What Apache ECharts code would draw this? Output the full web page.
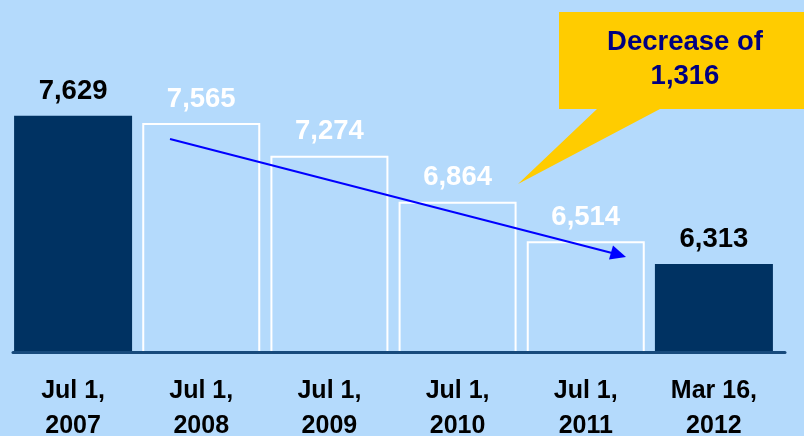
<!DOCTYPE html>
<html>
<head>
<meta charset="utf-8">
<script src="https://cdn.jsdelivr.net/npm/echarts@6/dist/echarts.min.js"></script>
<style>
html,body{margin:0;padding:0;background:#B4DAFC;}
#chart{width:804px;height:436px;}
</style>
</head>
<body>
<div id="chart"></div>
<script>
const categories = ['Jul 1,\n2007', 'Jul 1,\n2008', 'Jul 1,\n2009', 'Jul 1,\n2010', 'Jul 1,\n2011', 'Mar 16,\n2012'];
const values = [7629, 7565, 7274, 6864, 6514, 6313];
const calloutLines = ['Decrease of', '1,316'];

const FONT = '"Liberation Sans", Arial, sans-serif';
const DARK = '#003262';

const data = values.map((v, i) => {
  const filled = (i === 0 || i === values.length - 1);
  return {
    value: v,
    itemStyle: filled
      ? { color: DARK, borderWidth: 0 }
      : { color: 'rgba(0,0,0,0)', borderColor: '#ffffff', borderWidth: 2 },
    label: { color: filled ? '#000000' : '#ffffff' }
  };
});

const chart = echarts.init(document.getElementById('chart'), null, { renderer: 'canvas' });
chart.setOption({
  backgroundColor: '#B4DAFC',
  animation: false,
  grid: { left: 9, right: 26, top: 20, bottom: 84, outerBoundsMode: 'none', containLabel: false },
  xAxis: {
    type: 'category',
    data: categories,
    axisLine: { show: false },
    axisTick: { show: false },
    axisLabel: {
      interval: 0,
      margin: 22,
      color: '#000000',
      fontFamily: FONT,
      fontWeight: 'bold',
      fontSize: 25,
      lineHeight: 35
    }
  },
  yAxis: {
    type: 'value',
    min: 5530,
    max: 8480,
    show: false,
    splitLine: { show: false }
  },
  series: [{
    type: 'bar',
    data: data,
    barWidth: 118,
    label: {
      show: true,
      position: 'top',
      distance: 10,
      fontFamily: FONT,
      fontWeight: 'bold',
      fontSize: 27.5,
      formatter: p => p.value.toLocaleString('en-US')
    }
  }],
  graphic: [
    {
      type: 'line',
      z: 10,
      shape: { x1: 13, y1: 352.5, x2: 785, y2: 352.5 },
      style: { stroke: '#174A7C', lineWidth: 3, lineCap: 'round' }
    },
    {
      type: 'polygon',
      z: 10,
      shape: { points: [[559, 12], [804, 12], [804, 109], [660, 109], [518, 184], [597, 109], [559, 109]] },
      style: { fill: '#FFCC00' }
    },
    {
      type: 'text',
      z: 11,
      style: {
        x: 685, y: 59,
        text: calloutLines.join('\n'),
        align: 'center', verticalAlign: 'middle',
        font: 'bold 27.5px ' + FONT,
        lineHeight: 34,
        fill: '#000080'
      }
    },
    {
      type: 'line',
      z: 10,
      shape: { x1: 170, y1: 139, x2: 612, y2: 253 },
      style: { stroke: '#0000FF', lineWidth: 2 }
    },
    {
      type: 'polygon',
      z: 10,
      shape: { points: [[626, 257], [609, 259.5], [613, 245.5]] },
      style: { fill: '#0000FF' }
    }
  ]
});
</script>
</body>
</html>
